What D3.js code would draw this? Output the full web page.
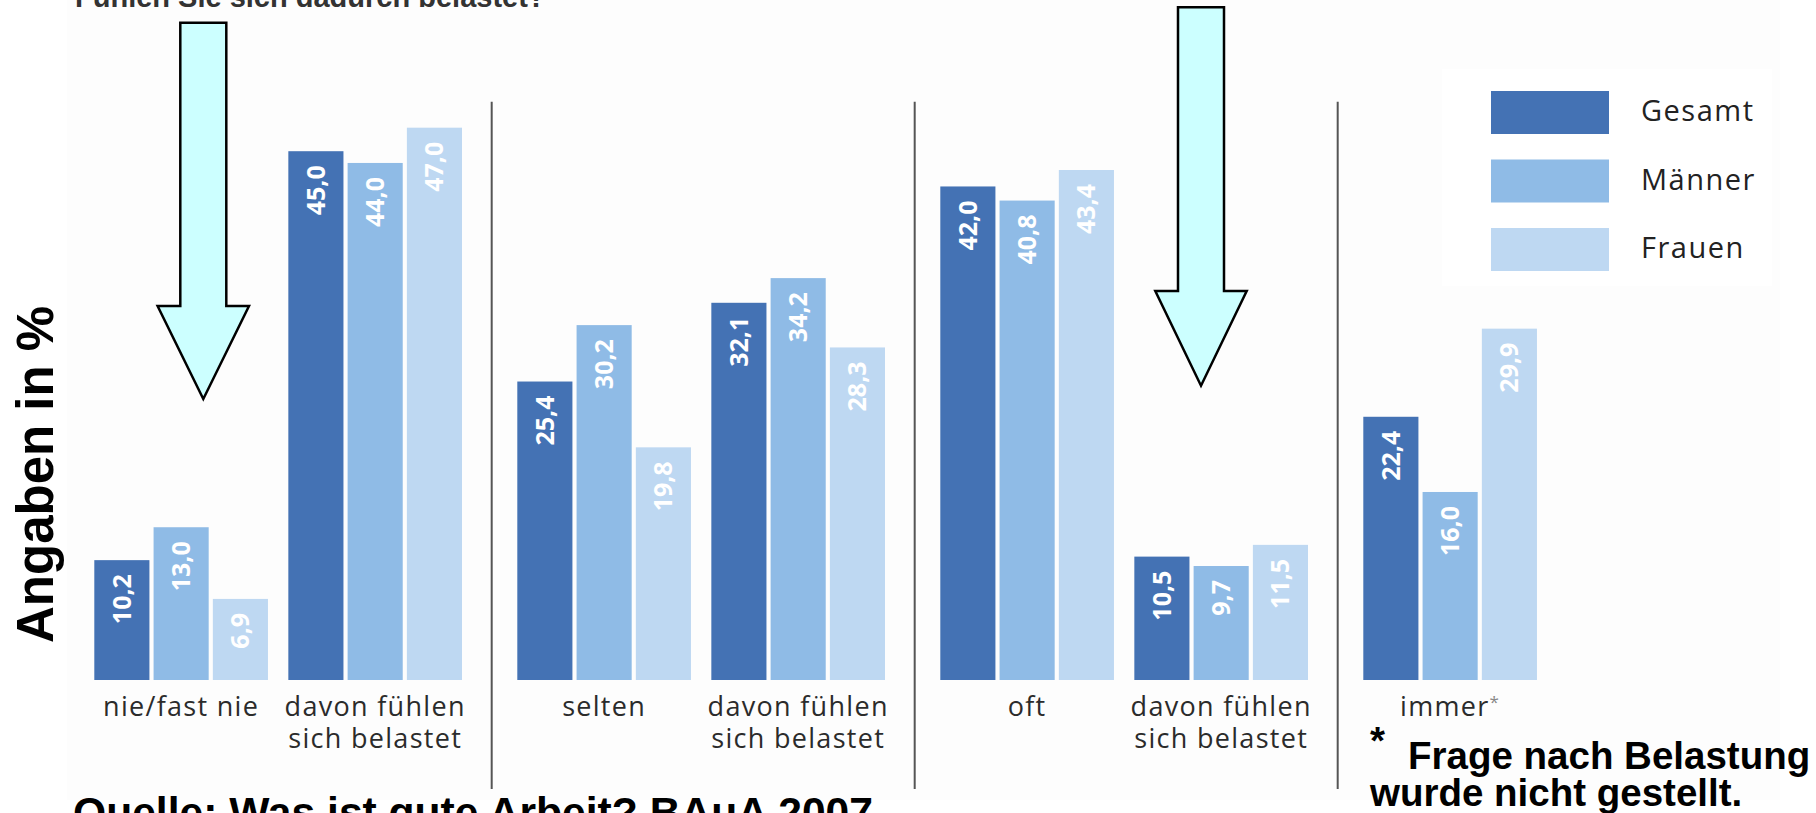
<!DOCTYPE html>
<html>
<head>
<meta charset="utf-8">
<script src="https://cdn.jsdelivr.net/npm/d3@7"></script>
<style>
  body { margin: 0; background: #fff; }
  svg { display: block; }
</style>
</head>
<body>
<main></main>
<script>
// data
const sections = ['nie/fast nie', 'selten', 'oft', 'immer'];
const categories = [
  'nie/fast nie',
  'davon fühlen sich belastet (nie)',
  'selten',
  'davon fühlen sich belastet (selten)',
  'oft',
  'davon fühlen sich belastet (oft)',
  'immer',
];
const categoryLines = [
  ['nie/fast nie'],
  ['davon fühlen', 'sich belastet'],
  ['selten'],
  ['davon fühlen', 'sich belastet'],
  ['oft'],
  ['davon fühlen', 'sich belastet'],
  ['immer'],
];
const categorySection = [0, 0, 1, 1, 2, 2, 3];
const categorySlot = [0, 1, 0, 1, 0, 1, 0];
const series = ['Gesamt', 'Männer', 'Frauen'];
const gesamt = [10.2, 45.0, 25.4, 32.1, 42.0, 10.5, 22.4];
const maenner = [13.0, 44.0, 30.2, 34.2, 40.8, 9.7, 16.0];
const frauen = [6.9, 47.0, 19.8, 28.3, 43.4, 11.5, 29.9];

function drawChart() {
  const width = 1816;
  const height = 813;
  const colors = ['#4472b4', '#8fbbe6', '#bed8f2'];
  const values = [gesamt, maenner, frauen];

  const de = d3.formatLocale({
    decimal: ',',
    thousands: '.',
    grouping: [3],
    currency: ['', ' €'],
  });
  const fmt = de.format('.1f');

  const svg = d3
    .select('main')
    .append('svg')
    .attr('width', width)
    .attr('height', height)
    .attr('viewBox', [0, 0, width, height]);

  // faint picture background, legend box is plain white
  svg
    .append('rect')
    .attr('x', 67)
    .attr('y', 0)
    .attr('width', 1713)
    .attr('height', 800)
    .attr('fill', '#fdfdfd');

  svg
    .append('rect')
    .attr('x', 1442)
    .attr('y', 69)
    .attr('width', 330)
    .attr('height', 217)
    .attr('fill', '#fff');

  const sectionScale = d3
    .scaleBand()
    .domain(d3.range(sections.length))
    .range([68.7, 68.7 + 423 * sections.length]);

  const slotScale = d3
    .scaleBand()
    .domain([0, 1])
    .range([25.6, 393.3])
    .paddingInner(0.105);

  const barScale = d3
    .scaleBand()
    .domain(series)
    .range([0, slotScale.bandwidth()])
    .paddingInner(0.07);

  const y = d3.scaleLinear().domain([0, 47]).range([680, 127.7]);

  const groupX = i =>
    sectionScale(categorySection[i]) + slotScale(categorySlot[i]);

  // section dividers
  svg
    .append('g')
    .selectAll('line')
    .data(d3.range(1, sections.length))
    .join('line')
    .attr('x1', d => sectionScale(d))
    .attr('x2', d => sectionScale(d))
    .attr('y1', 101.7)
    .attr('y2', 789)
    .attr('stroke', '#555')
    .attr('stroke-width', 2);

  const groups = svg
    .append('g')
    .selectAll('g')
    .data(categories)
    .join('g')
    .attr('transform', (d, i) => `translate(${groupX(i)} 0)`);

  const bars = groups
    .selectAll('g')
    .data((d, i) => series.map((s, j) => ({ s, j, v: values[j][i] })))
    .join('g');

  bars
    .append('rect')
    .attr('x', d => barScale(d.s))
    .attr('y', d => y(d.v))
    .attr('width', barScale.bandwidth())
    .attr('height', d => y(0) - y(d.v))
    .attr('fill', d => colors[d.j]);

  bars
    .append('text')
    .attr(
      'transform',
      d =>
        `translate(${barScale(d.s) + barScale.bandwidth() / 2} ${y(d.v) + 14}) rotate(-90)`
    )
    .attr('text-anchor', 'end')
    .attr('dy', '0.36em')
    .attr('font-family', 'Open Sans')
    .attr('font-weight', 700)
    .attr('font-size', 25)
    .attr('fill', '#fff')
    .text(d => fmt(d.v));

  // category labels
  const labels = groups
    .append('text')
    .attr('x', slotScale.bandwidth() / 2)
    .attr('y', 716)
    .attr('text-anchor', 'middle')
    .attr('font-family', 'Open Sans')
    .attr('font-weight', 500)
    .attr('font-size', 27)
    .attr('letter-spacing', 1.3)
    .attr('fill', '#2b2b2b');

  labels
    .selectAll('tspan')
    .data((d, i) => categoryLines[i])
    .join('tspan')
    .attr('x', slotScale.bandwidth() / 2)
    .attr('dy', (d, i) => (i === 0 ? 0 : 32))
    .text(d => d);

  labels
    .filter((d, i) => i === categories.length - 1)
    .append('tspan')
    .attr('dy', -8)
    .attr('font-size', 17)
    .attr('fill', '#888')
    .text('*');

  // legend
  const legend = svg
    .append('g')
    .attr('transform', 'translate(1491 91)');

  const legendItems = legend
    .selectAll('g')
    .data(series)
    .join('g')
    .attr('transform', (d, i) => `translate(0 ${i * 68.5})`);

  legendItems
    .append('rect')
    .attr('width', 118)
    .attr('height', 43)
    .attr('fill', (d, i) => colors[i]);

  legendItems
    .append('text')
    .attr('x', 150)
    .attr('y', 30)
    .attr('font-family', 'Open Sans')
    .attr('font-weight', 500)
    .attr('font-size', 29)
    .attr('letter-spacing', 1.5)
    .attr('fill', '#222')
    .text(d => d);

  // y axis title
  svg
    .append('text')
    .attr('transform', 'translate(53 643) rotate(-90)')
    .attr('font-family', 'Liberation Sans, Arial, sans-serif')
    .attr('font-weight', 'bold')
    .attr('font-size', 51)
    .attr('fill', '#000')
    .text('Angaben in %');

  // question, cut at the top edge
  svg
    .append('text')
    .attr('x', 75)
    .attr('y', 7)
    .attr('font-family', 'Liberation Sans, Arial, sans-serif')
    .attr('font-weight', 'bold')
    .attr('font-size', 29)
    .attr('fill', '#333')
    .text('Fühlen Sie sich dadurch belastet?');

  // arrows
  const arrows = [
    { cx: 203.3, top: 22.7, shoulder: 306, tip: 399 },
    { cx: 1201, top: 7.3, shoulder: 291, tip: 385.7 },
  ];
  const shaft = 23;
  const head = 45.7;

  svg
    .append('g')
    .selectAll('path')
    .data(arrows)
    .join('path')
    .attr('d', a => {
      const p = d3.path();
      p.moveTo(a.cx - shaft, a.top);
      p.lineTo(a.cx + shaft, a.top);
      p.lineTo(a.cx + shaft, a.shoulder);
      p.lineTo(a.cx + head, a.shoulder);
      p.lineTo(a.cx, a.tip);
      p.lineTo(a.cx - head, a.shoulder);
      p.lineTo(a.cx - shaft, a.shoulder);
      p.closePath();
      return p.toString();
    })
    .attr('fill', '#ccffff')
    .attr('stroke', '#000')
    .attr('stroke-width', 2.5)
    .attr('stroke-linejoin', 'miter');

  // source
  svg
    .append('text')
    .attr('x', 73)
    .attr('y', 827)
    .attr('font-family', 'Liberation Sans, Arial, sans-serif')
    .attr('font-weight', 'bold')
    .attr('font-size', 42.6)
    .attr('fill', '#000')
    .text('Quelle: Was ist gute Arbeit? BAuA 2007');

  // footnote
  const note = svg
    .append('g')
    .attr('font-family', 'Liberation Sans, Arial, sans-serif')
    .attr('font-size', 38.5)
    .attr('font-weight', 'bold')
    .attr('fill', '#000');

  note
    .append('text')
    .attr('x', 1370)
    .attr('y', 754)
    .text('*');

  note
    .append('text')
    .attr('x', 1408)
    .attr('y', 769)
    .text('Frage nach Belastung');

  note
    .append('text')
    .attr('x', 1370)
    .attr('y', 806)
    .text('wurde nicht gestellt.');
}

drawChart();
</script>
</body>
</html>
